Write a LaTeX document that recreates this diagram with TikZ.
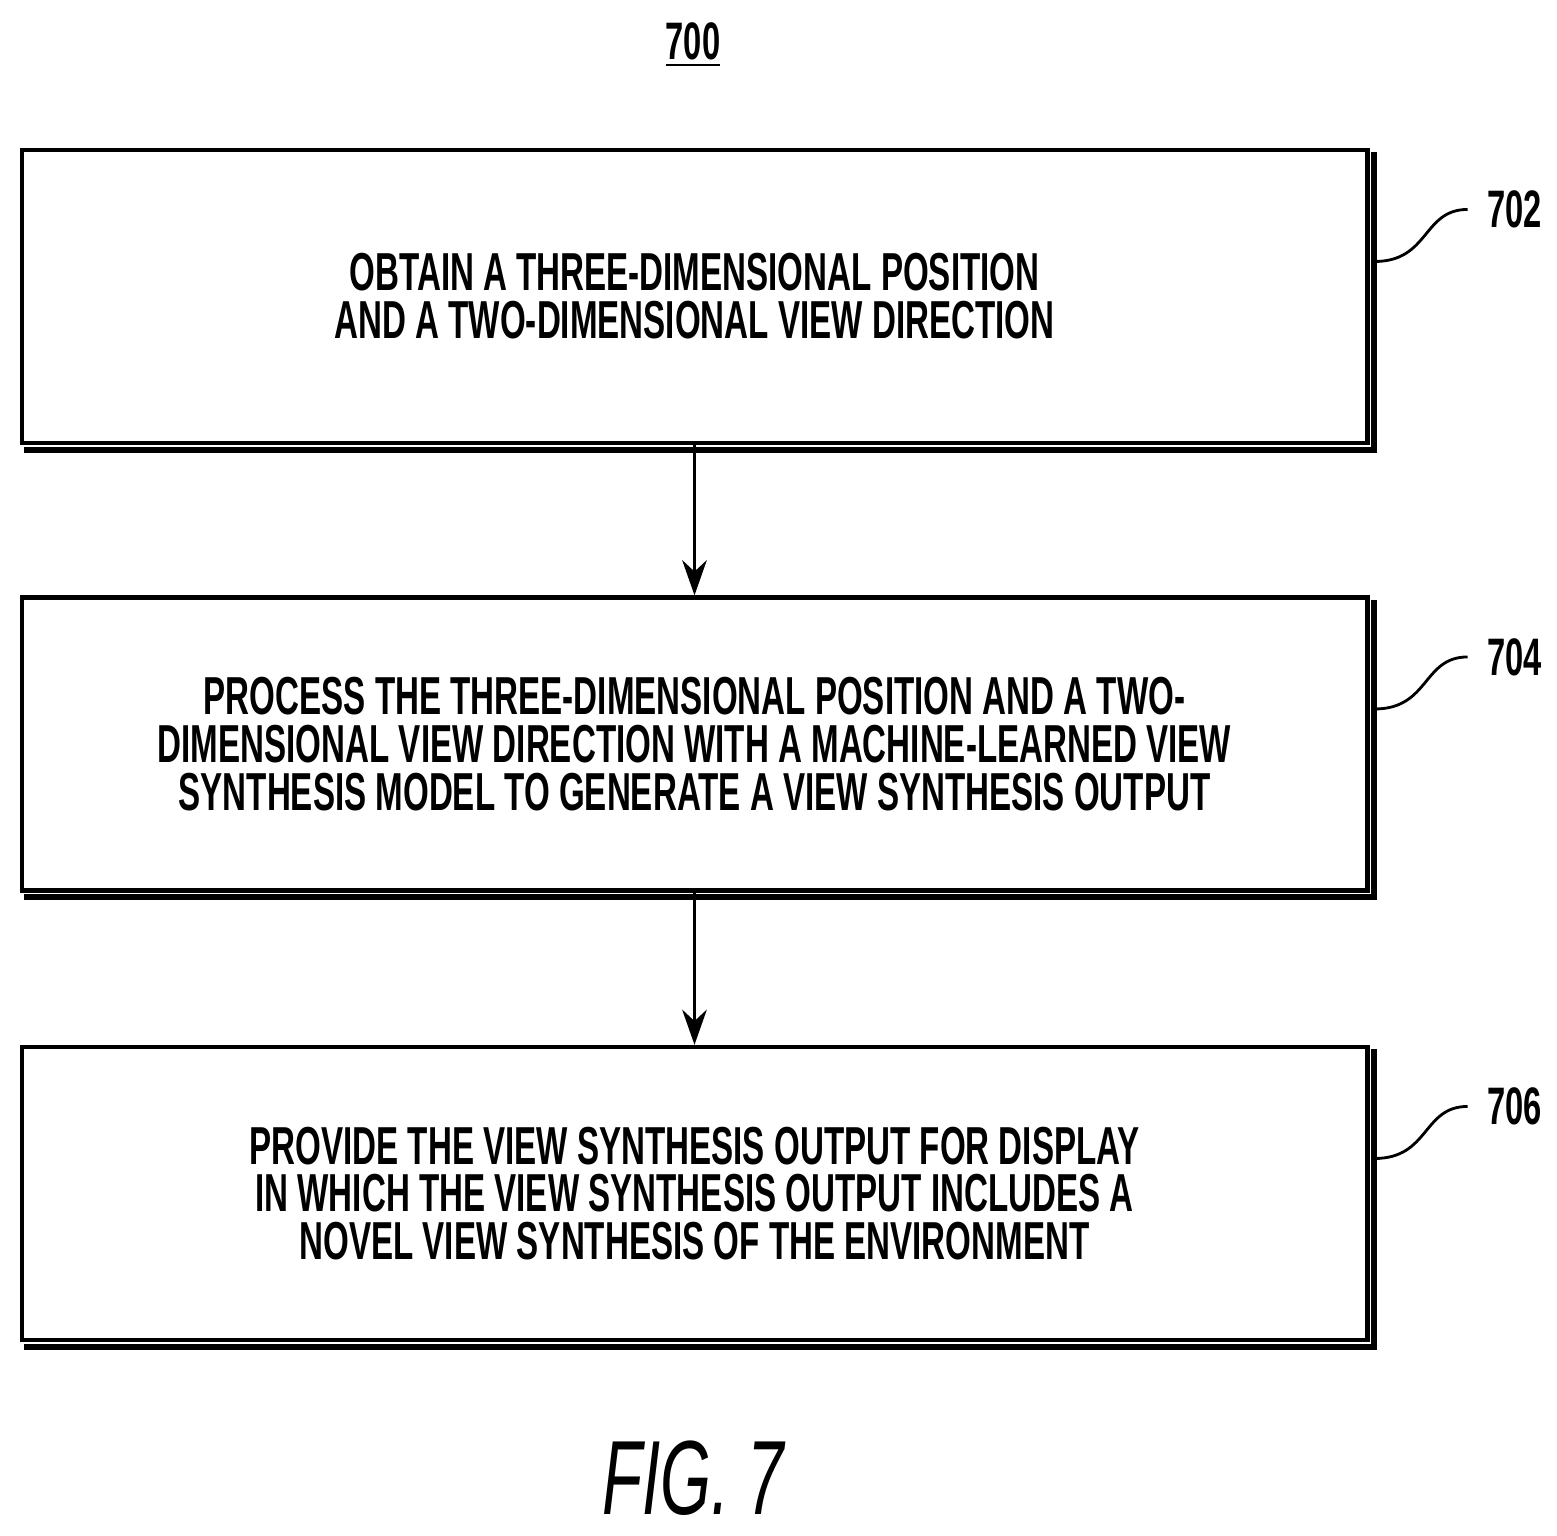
\documentclass[tikz,border=0pt]{standalone}
\usepackage{fontspec}
\setmainfont{Liberation Sans}[FakeStretch=0.62]
\usetikzlibrary{arrows.meta}
\begin{document}
\begin{tikzpicture}[x=0.01cm,y=-0.01cm,
  stepbox/.style={draw,line width=1.2pt,minimum width=13.45cm,minimum height=2.93cm,
    align=center,font=\bfseries\fontsize{15.2}{13.6}\selectfont},
  shade/.style={line width=1.8pt},
  ref/.style={font=\fontsize{15}{15}\selectfont\bfseries,anchor=west},
  flow/.style={-{Stealth[length=10pt,width=7pt]},line width=0.8pt}]
  \useasboundingbox (0,0) rectangle (1557,1536);
  \node[font=\bfseries\fontsize{15}{15}\selectfont] (title) at (693,45) {\underline{700}};
  % steps
  \node[stepbox] (s702) at (694.5,296.5) {OBTAIN A THREE-DIMENSIONAL POSITION\\AND A TWO-DIMENSIONAL VIEW DIRECTION};
  \node[stepbox] (s704) at (694.5,744) {PROCESS THE THREE-DIMENSIONAL POSITION AND A TWO-\\DIMENSIONAL VIEW DIRECTION WITH A MACHINE-LEARNED VIEW\\SYNTHESIS MODEL TO GENERATE A VIEW SYNTHESIS OUTPUT};
  \node[stepbox] (s706) at (694.5,1193.5) {PROVIDE THE VIEW SYNTHESIS OUTPUT FOR DISPLAY\\IN WHICH THE VIEW SYNTHESIS OUTPUT INCLUDES A\\NOVEL VIEW SYNTHESIS OF THE ENVIRONMENT};
  \foreach \s in {s702,s704,s706}{
    \draw[shade] ([xshift=1.3pt,yshift=-1.3pt]\s.south west) -| ([xshift=1.3pt,yshift=-1.3pt]\s.north east);
  }
  \draw[flow] (s702) -- (s704);
  \draw[flow] (s704) -- (s706);
  % reference numerals
  \foreach \s/\n in {s702/702,s704/704,s706/706}{
    \coordinate (c\n) at ([xshift=0.05cm,yshift=0.35cm]\s.east);
    \node[ref] (r\n) at ([xshift=1.05cm,yshift=0.87cm]\s.east) {\n};
    \draw[line width=0.8pt] (c\n) .. controls +(55,0) and +(-45,0) .. ([xshift=-2pt]r\n.west);
  }
  \node[font=\itshape\fontsize{30}{30}\selectfont] (fig) at (693,1478) {FIG. 7};
\end{tikzpicture}
\end{document}
